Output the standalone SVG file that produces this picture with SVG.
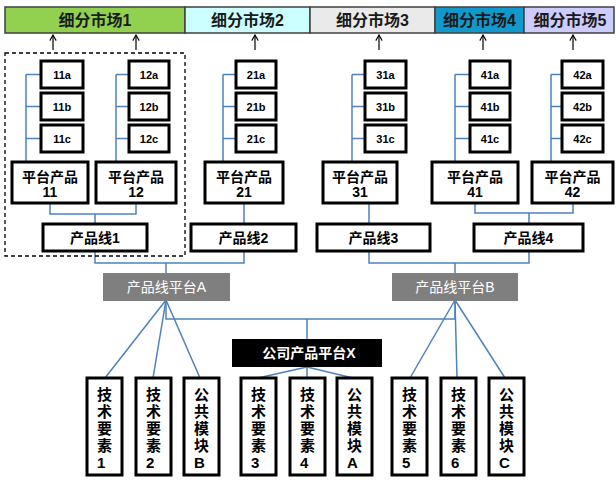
<svg xmlns="http://www.w3.org/2000/svg" width="616" height="491" viewBox="0 0 616 491">
<defs>
<marker id="up" markerWidth="8" markerHeight="8" refX="9" refY="5" orient="auto" markerUnits="userSpaceOnUse" viewBox="0 0 10 10">
<path d="M2 1 L9 5 L2 9" fill="none" stroke="#000" stroke-width="1.4"/>
</marker>
</defs>
<style>
text{font-family:"Liberation Sans","Noto Sans CJK SC",sans-serif;}
.hdr{stroke:#404040;stroke-width:1.5;}
.ht{font-size:16px;font-weight:bold;text-anchor:middle;fill:#1a1a1a;}
.sb{fill:#fff;stroke:#000;stroke-width:3;}
.st{font-size:11px;font-weight:bold;text-anchor:middle;}
.pt{font-size:14px;font-weight:bold;text-anchor:middle;}
.gp{fill:#7f7f7f;}
.gt{font-size:14px;fill:#fff;text-anchor:middle;}
.vt{font-size:15px;font-weight:bold;}
.ln{fill:none;stroke:#4f81bd;stroke-width:1.5;}
.ar{stroke:#000;stroke-width:1.2;marker-end:url(#up);}
</style>
<rect width="616" height="491" fill="#fff"/>

<g id="markets">
<g id="m1"><rect class="hdr" x="5" y="7" width="180" height="26" fill="#92d050"/><text class="ht" x="95" y="26">细分市场1</text></g>
<g id="m2"><rect class="hdr" x="185" y="7" width="125" height="26" fill="#ccffff"/><text class="ht" x="247.5" y="26">细分市场2</text></g>
<g id="m3"><rect class="hdr" x="310" y="7" width="125" height="26" fill="#eaeaea"/><text class="ht" x="372.5" y="26">细分市场3</text></g>
<g id="m4"><rect class="hdr" x="435" y="7" width="89" height="26" fill="#1199cc"/><text class="ht" x="479.5" y="26">细分市场4</text></g>
<g id="m5"><rect class="hdr" x="524" y="7" width="90" height="26" fill="#ccccff"/><text class="ht" x="570" y="26">细分市场5</text></g>
</g>

<g id="connectors">
<g id="arrows">
<line class="ar" x1="53" y1="50" x2="53" y2="35"/>
<line class="ar" x1="136" y1="50" x2="136" y2="35"/>
<line class="ar" x1="255" y1="50" x2="255" y2="35"/>
<line class="ar" x1="379" y1="50" x2="379" y2="35"/>
<line class="ar" x1="483" y1="50" x2="483" y2="35"/>
<line class="ar" x1="573" y1="50" x2="573" y2="35"/>
</g>
<path class="ln" d="M26 74.5 V162 M26 74.5 H41 M26 106.5 H41 M26 138.5 H41"/>
<path class="ln" d="M116 74.5 V162 M116 74.5 H129 M116 106.5 H129 M116 138.5 H129"/>
<path class="ln" d="M223 74.5 V162 M223 74.5 H236 M223 106.5 H236 M223 138.5 H236"/>
<path class="ln" d="M352 74.5 V162 M352 74.5 H365 M352 106.5 H365 M352 138.5 H365"/>
<path class="ln" d="M455 74.5 V162 M455 74.5 H470 M455 106.5 H470 M455 138.5 H470"/>
<path class="ln" d="M551 74.5 V162 M551 74.5 H562 M551 106.5 H562 M551 138.5 H562"/>
<path class="ln" d="M50 203 V214 H136 V203 M95 214 V224"/>
<path class="ln" d="M244 203 V224"/>
<path class="ln" d="M369 203 V224"/>
<path class="ln" d="M475 203 V213 H573 V203 M529 213 V224"/>
<path class="ln" d="M95 251 V263 H244 V251 M166 263 V273"/>
<path class="ln" d="M369 251 V263 H529 V251 M455 263 V273"/>
<path class="ln" d="M166 300 L105 378 M166 300 L153 378 M166 300 L200 378"/>
<path class="ln" d="M166 300 V319 H455 V300 M307 319 V339"/>
<path class="ln" d="M307 367 L258 378 M307 367 L307 378 M307 367 L353 378"/>
<path class="ln" d="M455 300 L410 378 M455 300 L457 378 M455 300 L505 378"/>
</g>

<rect id="group1" x="5" y="53" width="180" height="203" fill="none" stroke="#000" stroke-width="1.3" stroke-dasharray="4,3"/>

<g id="n11a"><rect class="sb" x="41" y="61" width="42" height="27"/><text class="st" x="62" y="78.5">11a</text></g>
<g id="n11b"><rect class="sb" x="41" y="93" width="42" height="27"/><text class="st" x="62" y="110.5">11b</text></g>
<g id="n11c"><rect class="sb" x="41" y="125" width="42" height="27"/><text class="st" x="62" y="142.5">11c</text></g>
<g id="n12a"><rect class="sb" x="129" y="61" width="40" height="27"/><text class="st" x="149" y="78.5">12a</text></g>
<g id="n12b"><rect class="sb" x="129" y="93" width="40" height="27"/><text class="st" x="149" y="110.5">12b</text></g>
<g id="n12c"><rect class="sb" x="129" y="125" width="40" height="27"/><text class="st" x="149" y="142.5">12c</text></g>
<g id="n21a"><rect class="sb" x="236" y="61" width="40" height="27"/><text class="st" x="256" y="78.5">21a</text></g>
<g id="n21b"><rect class="sb" x="236" y="93" width="40" height="27"/><text class="st" x="256" y="110.5">21b</text></g>
<g id="n21c"><rect class="sb" x="236" y="125" width="40" height="27"/><text class="st" x="256" y="142.5">21c</text></g>
<g id="n31a"><rect class="sb" x="365" y="61" width="41" height="27"/><text class="st" x="385.5" y="78.5">31a</text></g>
<g id="n31b"><rect class="sb" x="365" y="93" width="41" height="27"/><text class="st" x="385.5" y="110.5">31b</text></g>
<g id="n31c"><rect class="sb" x="365" y="125" width="41" height="27"/><text class="st" x="385.5" y="142.5">31c</text></g>
<g id="n41a"><rect class="sb" x="470" y="61" width="40" height="27"/><text class="st" x="490" y="78.5">41a</text></g>
<g id="n41b"><rect class="sb" x="470" y="93" width="40" height="27"/><text class="st" x="490" y="110.5">41b</text></g>
<g id="n41c"><rect class="sb" x="470" y="125" width="40" height="27"/><text class="st" x="490" y="142.5">41c</text></g>
<g id="n42a"><rect class="sb" x="562" y="61" width="41" height="27"/><text class="st" x="582.5" y="78.5">42a</text></g>
<g id="n42b"><rect class="sb" x="562" y="93" width="41" height="27"/><text class="st" x="582.5" y="110.5">42b</text></g>
<g id="n42c"><rect class="sb" x="562" y="125" width="41" height="27"/><text class="st" x="582.5" y="142.5">42c</text></g>

<g id="p11"><rect class="sb" x="12" y="162" width="76" height="41"/><text class="pt" x="50" y="182">平台产品</text><text class="pt" x="50" y="197">11</text></g>
<g id="p12"><rect class="sb" x="96" y="162" width="80" height="41"/><text class="pt" x="136" y="182">平台产品</text><text class="pt" x="136" y="197">12</text></g>
<g id="p21"><rect class="sb" x="205" y="162" width="78" height="41"/><text class="pt" x="244" y="182">平台产品</text><text class="pt" x="244" y="197">21</text></g>
<g id="p31"><rect class="sb" x="323" y="162" width="74" height="41"/><text class="pt" x="360" y="182">平台产品</text><text class="pt" x="360" y="197">31</text></g>
<g id="p41"><rect class="sb" x="432" y="162" width="86" height="41"/><text class="pt" x="475" y="182">平台产品</text><text class="pt" x="475" y="197">41</text></g>
<g id="p42"><rect class="sb" x="532" y="162" width="81" height="41"/><text class="pt" x="572.5" y="182">平台产品</text><text class="pt" x="572.5" y="197">42</text></g>

<g id="l1"><rect class="sb" x="43" y="224" width="104" height="27"/><text class="pt" x="95" y="242.5">产品线1</text></g>
<g id="l2"><rect class="sb" x="191" y="224" width="105" height="27"/><text class="pt" x="243.5" y="242.5">产品线2</text></g>
<g id="l3"><rect class="sb" x="317" y="224" width="113" height="27"/><text class="pt" x="373.5" y="242.5">产品线3</text></g>
<g id="l4"><rect class="sb" x="474" y="224" width="109" height="27"/><text class="pt" x="528.5" y="242.5">产品线4</text></g>

<g id="platA"><rect class="gp" x="103" y="273" width="127" height="28"/><text class="gt" x="166.5" y="292">产品线平台A</text></g>
<g id="platB"><rect class="gp" x="392" y="273" width="126" height="28"/><text class="gt" x="455" y="292">产品线平台B</text></g>
<g id="platX"><rect x="232" y="339" width="150" height="28" fill="#000"/><text class="pt" x="309" y="358" fill="#fff">公司产品平台X</text></g>

<g id="t1"><rect class="sb" x="87" y="378" width="35" height="97"/><text class="vt" x="97" y="400">技</text><text class="vt" x="97" y="417">术</text><text class="vt" x="97" y="434">要</text><text class="vt" x="97" y="451">素</text><text class="vt" x="97" y="468">1</text></g>
<g id="t2"><rect class="sb" x="136" y="378" width="35" height="97"/><text class="vt" x="146" y="400">技</text><text class="vt" x="146" y="417">术</text><text class="vt" x="146" y="434">要</text><text class="vt" x="146" y="451">素</text><text class="vt" x="146" y="468">2</text></g>
<g id="mB"><rect class="sb" x="184" y="378" width="35" height="97"/><text class="vt" x="194" y="400">公</text><text class="vt" x="194" y="417">共</text><text class="vt" x="194" y="434">模</text><text class="vt" x="194" y="451">块</text><text class="vt" x="194" y="468">B</text></g>
<g id="t3"><rect class="sb" x="241" y="378" width="35" height="97"/><text class="vt" x="251" y="400">技</text><text class="vt" x="251" y="417">术</text><text class="vt" x="251" y="434">要</text><text class="vt" x="251" y="451">素</text><text class="vt" x="251" y="468">3</text></g>
<g id="t4"><rect class="sb" x="290" y="378" width="35" height="97"/><text class="vt" x="300" y="400">技</text><text class="vt" x="300" y="417">术</text><text class="vt" x="300" y="434">要</text><text class="vt" x="300" y="451">素</text><text class="vt" x="300" y="468">4</text></g>
<g id="mA"><rect class="sb" x="337" y="378" width="35" height="97"/><text class="vt" x="347" y="400">公</text><text class="vt" x="347" y="417">共</text><text class="vt" x="347" y="434">模</text><text class="vt" x="347" y="451">块</text><text class="vt" x="347" y="468">A</text></g>
<g id="t5"><rect class="sb" x="392" y="378" width="35" height="97"/><text class="vt" x="402" y="400">技</text><text class="vt" x="402" y="417">术</text><text class="vt" x="402" y="434">要</text><text class="vt" x="402" y="451">素</text><text class="vt" x="402" y="468">5</text></g>
<g id="t6"><rect class="sb" x="441" y="378" width="35" height="97"/><text class="vt" x="451" y="400">技</text><text class="vt" x="451" y="417">术</text><text class="vt" x="451" y="434">要</text><text class="vt" x="451" y="451">素</text><text class="vt" x="451" y="468">6</text></g>
<g id="mC"><rect class="sb" x="489" y="378" width="35" height="97"/><text class="vt" x="499" y="400">公</text><text class="vt" x="499" y="417">共</text><text class="vt" x="499" y="434">模</text><text class="vt" x="499" y="451">块</text><text class="vt" x="499" y="468">C</text></g>
</svg>
